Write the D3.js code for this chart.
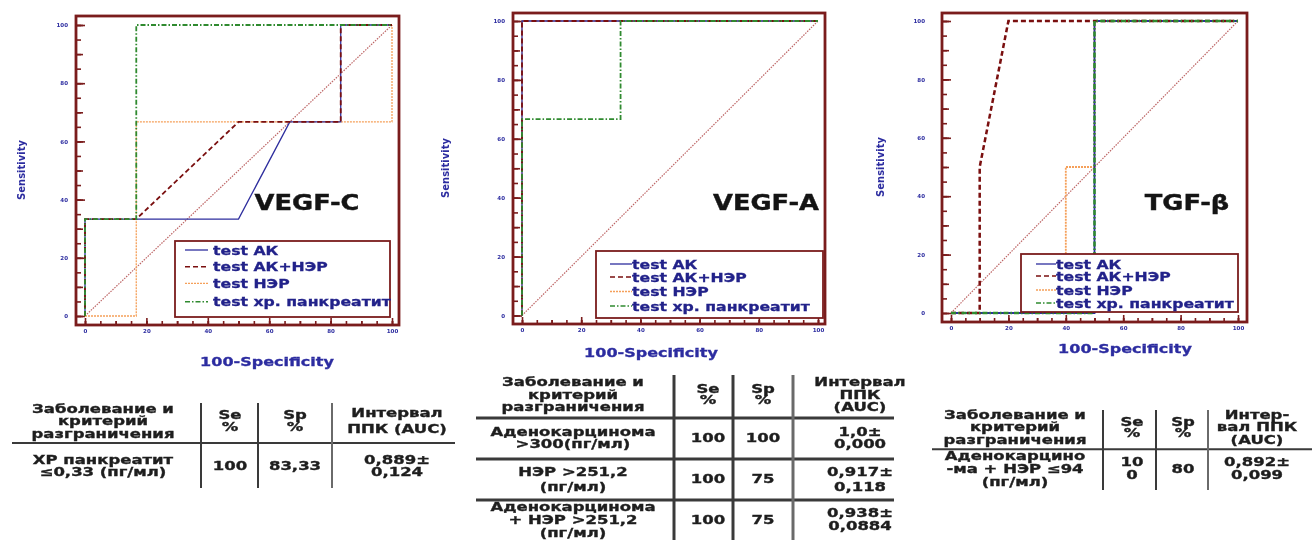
<!DOCTYPE html>
<html>
<head>
<meta charset="utf-8">
<script src="https://cdn.jsdelivr.net/npm/d3@7"></script>
<style>
body { margin: 0; background: #fff; }
svg { display: block; filter: blur(0.45px); }
</style>
</head>
<body>
<div id="chart-area"></div>
<script>
// ---- data ----
const tickLabels = [0, 20, 40, 60, 80, 100]
const minorTicks = d3.range(0, 101, 5)
const midTicks = d3.range(0, 101, 10)
const legendLabels = ["test АК", "test АК+НЭР", "test НЭР", "test хр. панкреатит"]
const panelNames = ["VEGF-C", "VEGF-A", "TGF-β"]

// points are [100-Specificity, Sensitivity]
const vegfcAK = [[0, 0], [0, 33.3], [50, 33.3], [66.7, 66.7], [83.3, 66.7], [83.3, 100], [100, 100]]
const vegfcAKNEP = [[0, 0], [0, 33.3], [16.7, 33.3], [50, 66.7], [83.3, 66.7], [83.3, 100], [100, 100]]
const vegfcNEP = [[0, 0], [16.7, 0], [16.7, 66.7], [100, 66.7], [100, 100]]
const vegfcCP = [[0, 0], [0, 33.3], [16.7, 33.3], [16.7, 100], [100, 100]]

const vegfaAK = [[0, 0], [0, 100], [100, 100]]
const vegfaAKNEP = [[0, 0], [0, 100], [100, 100]]
const vegfaNEP = [[0, 0], [0, 100], [100, 100]]
const vegfaCP = [[0, 0], [0, 66.7], [33.3, 66.7], [33.3, 100], [100, 100]]

const tgfAK = [[0, 0], [50, 0], [50, 100], [100, 100]]
const tgfAKNEP = [[0, 0], [10, 0], [10, 50], [20, 100], [100, 100]]
const tgfNEP = [[0, 0], [40, 0], [40, 50], [50, 50], [50, 100], [100, 100]]
const tgfCP = [[0, 0], [50, 0], [50, 100], [100, 100]]

const diagonal = [[0, 0], [100, 100]]

// tables
const tableHeaders = [
	[["Заболевание и", "критерий", "разграничения"], ["Se", "%"], ["Sp", "%"], ["Интервал", "ППК (AUC)"]],
	[["Заболевание и", "критерий", "разграничения"], ["Se", "%"], ["Sp", "%"], ["Интервал", "ППК", "(AUC)"]],
	[["Заболевание и", "критерий", "разграничения"], ["Se", "%"], ["Sp", "%"], ["Интер-", "вал ППК", "(AUC)"]]
]
const table1Rows = [
	[["ХР панкреатит", "≤0,33 (пг/мл)"], ["100"], ["83,33"], ["0,889±", "0,124"]]
]
const table2Rows = [
	[["Аденокарцинома", ">300(пг/мл)"], ["100"], ["100"], ["1,0±", "0,000"]],
	[["НЭР >251,2", "(пг/мл)"], ["100"], ["75"], ["0,917±", "0,118"]],
	[["Аденокарцинома", "+ НЭР >251,2", "(пг/мл)"], ["100"], ["75"], ["0,938±", "0,0884"]]
]
const table3Rows = [
	[["Аденокарцино", "-ма + НЭР ≤94", "(пг/мл)"], ["10", "0"], ["80"], ["0,892±", "0,099"]]
]

// ---- style ----
const FONT = "DejaVu Sans"
const FRAME = "#7a1c1c"
const BLUE_TXT = "#2c2ca0"
const LEG_TXT = "#22228a"
const seriesStyle = [
	{ color: "#2e2e9e", dash: null, w: 1.3 },
	{ color: "#7a0f0f", dash: "5,3", w: 1.8 },
	{ color: "#f5a05a", dash: "2,1", w: 1.3 },
	{ color: "#2f8a2f", dash: "5,2,1.5,2", w: 1.8 }
]

const svg = d3.select("#chart-area").append("svg")
	.attr("width", 1312)
	.attr("height", 540)
svg.append("rect").attr("width", 1312).attr("height", 540).attr("fill", "#fff")

function measure(str, size, weight) {
	const t = svg.append("text")
		.attr("font-family", FONT).attr("font-size", size).attr("font-weight", weight)
		.text(str)
	const w = t.node().getComputedTextLength()
	t.remove()
	return w
}

// the source picture is horizontally stretched, so fit text widths
const tableSX = 142 / measure("Заболевание и", 12, "bold")
const legendSX = 178 / measure("test хр. панкреатит", 12.5, "bold")
const labelSX = 105 / measure("VEGF-C", 21, "bold")
const titleSX = 134 / measure("100-Specificity", 12, "bold")
const sensSX = 60 / measure("Sensitivity", 10, "bold")

function addText(parent, str, x, y, o) {
	const g = parent.append("g")
		.attr("transform", `translate(${x},${y})${o.rotate ? " rotate(-90)" : ""} scale(${o.sx || 1},1)`)
	g.append("text")
		.attr("text-anchor", o.anchor || "middle")
		.attr("font-family", FONT)
		.attr("font-weight", o.weight || "bold")
		.attr("font-size", o.size)
		.attr("fill", o.color || "#1c1c1c")
		.attr("stroke", o.heavy ? (o.color || "#1c1c1c") : null)
		.attr("stroke-width", o.heavy || null)
		.attr("dy", "0.36em")
		.text(str)
	return g
}

// ---- ROC panels ----
const panels = [
	{ series: [vegfcAK, vegfcAKNEP, vegfcNEP, vegfcCP],
		frame: [76, 16, 399, 325], xr: [85, 392], yr: [316, 25], ylab: 8, wMul: 1,
		leg: { box: [175, 241, 390, 317], items: [250, 266.7, 283.3, 301.7], line: [185, 208], tx: 213 },
		ytitle: [21, 170], xtitle: [267, 362], label: [307, 202] },
	{ series: [vegfaAK, vegfaAKNEP, vegfaNEP, vegfaCP],
		frame: [513, 13, 825, 324], xr: [522, 818], yr: [315.5, 21], ylab: 8, wMul: 1,
		leg: { box: [596, 251, 823, 318], items: [264, 277, 291.5, 306], line: [610, 632], tx: 632 },
		ytitle: [445, 168], xtitle: [651, 353], label: [766, 202] },
	{ series: [tgfAK, tgfAKNEP, tgfNEP, tgfCP],
		frame: [942, 13, 1247, 322], xr: [951, 1238], yr: [313, 21], ylab: 17, wMul: 1.4,
		leg: { box: [1021, 254, 1238, 312], items: [264, 276, 290, 303], line: [1036, 1056], tx: 1056 },
		ytitle: [880, 167], xtitle: [1125, 349], label: [1187, 202] }
]

panels.forEach((p, pi) => {
	const g = svg.append("g")
	const [fl, ft, fr, fb] = p.frame
	const x = d3.scaleLinear().domain([0, 100]).range(p.xr)
	const y = d3.scaleLinear().domain([0, 100]).range(p.yr)
	const line = d3.line().x(d => x(d[0])).y(d => y(d[1]))

	// axes sit on the frame, ticks point inward
	const axisSets = [
		{ vals: minorTicks, xs: 4, ys: 5, fmt: "" },
		{ vals: midTicks, xs: 4, ys: 7, fmt: "" },
		{ vals: tickLabels, xs: 7, ys: 9, fmt: d => d }
	]
	axisSets.forEach(a => {
		const ax = g.append("g")
			.attr("transform", `translate(0,${fb})`)
			.call(d3.axisBottom(x).tickValues(a.vals).tickSize(-a.xs).tickPadding(4).tickFormat(a.fmt))
		const ay = g.append("g")
			.attr("transform", `translate(${fl},0)`)
			.call(d3.axisLeft(y).tickValues(a.vals).tickSize(-a.ys).tickPadding(p.ylab).tickFormat(a.fmt))
		;[ax, ay].forEach(s => {
			s.select(".domain").remove()
			s.selectAll("line").attr("stroke", FRAME).attr("stroke-width", 1.6)
			s.selectAll("text")
				.attr("font-family", FONT).attr("font-weight", "bold")
				.attr("font-size", 5.5).attr("fill", BLUE_TXT)
		})
	})

	g.append("rect")
		.attr("x", fl).attr("y", ft)
		.attr("width", fr - fl).attr("height", fb - ft)
		.attr("fill", "none").attr("stroke", FRAME).attr("stroke-width", 2.8)

	// reference diagonal
	g.append("path").datum(diagonal)
		.attr("d", line).attr("fill", "none")
		.attr("stroke", "#b24a4a").attr("stroke-width", 1.2)
		.attr("stroke-dasharray", "1.5,1.2").attr("opacity", 0.85)

	// curves: НЭР, АК, АК+НЭР, хр. панкреатит on top
	;[2, 0, 1, 3].forEach(i => {
		const st = seriesStyle[i]
		g.append("path").datum(p.series[i])
			.attr("d", line).attr("fill", "none")
			.attr("stroke", st.color)
			.attr("stroke-width", st.w * p.wMul)
			.attr("stroke-dasharray", st.dash)
			.attr("stroke-linejoin", "miter")
	})

	// legend
	const [lx0, ly0, lx1, ly1] = p.leg.box
	g.append("rect")
		.attr("x", lx0).attr("y", ly0)
		.attr("width", lx1 - lx0).attr("height", ly1 - ly0)
		.attr("fill", "#fff").attr("stroke", FRAME).attr("stroke-width", 1.8)
	legendLabels.forEach((lab, i) => {
		const st = seriesStyle[i]
		const yy = p.leg.items[i]
		g.append("line")
			.attr("x1", p.leg.line[0]).attr("x2", p.leg.line[1])
			.attr("y1", yy).attr("y2", yy)
			.attr("stroke", st.color).attr("stroke-width", Math.min(st.w, 1.5))
			.attr("stroke-dasharray", st.dash)
		addText(g, lab, p.leg.tx, yy, { anchor: "start", size: 12.5, sx: legendSX, color: LEG_TXT, heavy: 0.3 })
	})

	// titles
	addText(g, "Sensitivity", p.ytitle[0], p.ytitle[1], { size: 10, sx: sensSX, color: BLUE_TXT })
		.attr("transform", `translate(${p.ytitle[0]},${p.ytitle[1]}) rotate(-90) scale(${sensSX},1)`)
	addText(g, "100-Specificity", p.xtitle[0], p.xtitle[1], { size: 12, sx: titleSX, color: BLUE_TXT, heavy: 0.3 })
	addText(g, panelNames[pi], p.label[0], p.label[1], { size: 21, sx: labelSX, color: "#141414", heavy: 0.4 })
})

// ---- tables ----
const tables = [
	{ header: tableHeaders[0], rows: table1Rows,
		colX: [103, 230, 295, 397], vx: [201, 258, 332], vy: [403, 488],
		hr: [443], hx: [12, 455], rw: 2,
		headCY: 421, headLH: [12.5, 11.7, 11.7, 16], rowCY: [466], rowLH: [11.7] },
	{ header: tableHeaders[1], rows: table2Rows,
		colX: [573, 708, 763, 860], vx: [674, 733, 793], vy: [375, 540],
		hr: [418, 459, 500], hx: [476, 894], rw: 3,
		headCY: 394.5, headLH: [12.5, 11, 11, 12.5], rowCY: [437.5, 479, 519.5], rowLH: [11.6, 15, 13] },
	{ header: tableHeaders[2], rows: table3Rows,
		colX: [1015, 1132, 1183, 1257], vx: [1103, 1156, 1208], vy: [410, 490],
		hr: [449.3], hx: [932, 1312], rw: 2,
		headCY: 427, headLH: [12.2, 11.5, 11.5, 12.5], rowCY: [468.5], rowLH: [13.3] }
]

function cellText(g, lines, cx, cy, lh) {
	const top = cy - (lines.length - 1) * lh / 2
	lines.forEach((s, k) => addText(g, s, cx, top + k * lh, { size: 12, sx: tableSX, color: "#1e1e1e", heavy: 0.35 }))
}

tables.forEach(t => {
	const g = svg.append("g")
	t.hr.forEach(yy => g.append("line")
		.attr("x1", t.hx[0]).attr("x2", t.hx[1]).attr("y1", yy).attr("y2", yy)
		.attr("stroke", "#3a3a3a").attr("stroke-width", t.rw))
	t.vx.forEach((xx, i) => g.append("line")
		.attr("x1", xx).attr("x2", xx).attr("y1", t.vy[0]).attr("y2", t.vy[1])
		.attr("stroke", i === 2 ? "#6a6a6a" : "#3a3a3a").attr("stroke-width", t.rw))
	t.header.forEach((cell, c) => cellText(g, cell, t.colX[c], t.headCY, t.headLH[c]))
	t.rows.forEach((row, r) => {
		row.forEach((cell, c) => cellText(g, cell, t.colX[c], t.rowCY[r], t.rowLH[r]))
	})
})
</script>
</body>
</html>
